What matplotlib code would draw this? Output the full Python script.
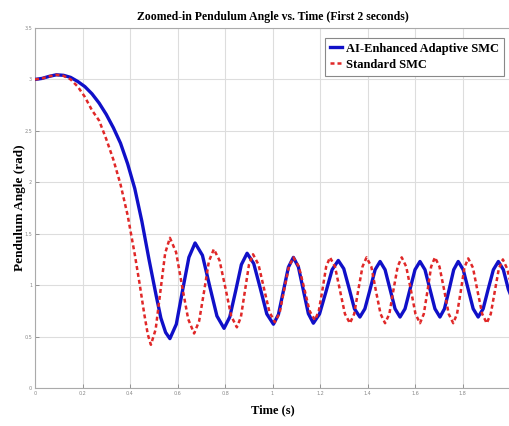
import matplotlib
matplotlib.use("Agg")
import matplotlib.pyplot as plt

# Pendulum angle (rad) vs time (s) for the two controllers
t_adaptive = [0.00, 0.03, 0.06, 0.09, 0.12, 0.15, 0.18, 0.21, 0.24, 0.27, 0.30, 0.33,
              0.36, 0.39, 0.42, 0.45, 0.48, 0.51, 0.53, 0.55, 0.568,
              0.595, 0.621, 0.648, 0.674, 0.705, 0.735, 0.766, 0.796,
              0.820, 0.845, 0.869, 0.893, 0.921, 0.949, 0.976, 1.004,
              1.025, 1.046, 1.067, 1.088, 1.109, 1.130, 1.151, 1.172,
              1.198, 1.225, 1.251, 1.277, 1.300, 1.323, 1.345, 1.368,
              1.389, 1.411, 1.432, 1.453, 1.474, 1.495, 1.516, 1.537,
              1.558, 1.579, 1.600, 1.621, 1.642, 1.663, 1.684, 1.705,
              1.724, 1.744, 1.763, 1.782, 1.803, 1.824, 1.845, 1.866,
              1.887, 1.908, 1.930, 1.951, 1.972, 1.993, 2.000]
angle_adaptive = [3.00, 3.01, 3.03, 3.045, 3.04, 3.02, 2.98, 2.93, 2.86, 2.77, 2.66, 2.53,
                  2.38, 2.18, 1.94, 1.62, 1.25, 0.90, 0.68, 0.54, 0.48,
                  0.62, 0.945, 1.27, 1.41, 1.29, 0.995, 0.70, 0.58,
                  0.69, 0.945, 1.20, 1.31, 1.21, 0.965, 0.72, 0.62,
                  0.715, 0.945, 1.175, 1.27, 1.177, 0.95, 0.723, 0.63,
                  0.72, 0.935, 1.15, 1.24, 1.16, 0.965, 0.77, 0.69,
                  0.77, 0.96, 1.15, 1.23, 1.15, 0.96, 0.77, 0.69,
                  0.77, 0.96, 1.15, 1.23, 1.15, 0.96, 0.77, 0.69,
                  0.77, 0.96, 1.15, 1.23, 1.15, 0.96, 0.77, 0.69,
                  0.77, 0.96, 1.15, 1.23, 1.15, 0.96, 0.92]

t_standard = [0.00, 0.03, 0.06, 0.09, 0.12, 0.15, 0.18, 0.21, 0.24, 0.27, 0.30, 0.33,
              0.36, 0.39, 0.42, 0.44, 0.46, 0.475, 0.488,
              0.508, 0.528, 0.548, 0.568, 0.594, 0.619, 0.645, 0.670,
              0.691, 0.712, 0.732, 0.753, 0.777, 0.802, 0.826, 0.850,
              0.867, 0.884, 0.901, 0.918, 0.941, 0.964, 0.987, 1.010,
              1.030, 1.049, 1.069, 1.088, 1.111, 1.134, 1.156, 1.179,
              1.195, 1.211, 1.226, 1.242, 1.263, 1.284, 1.305, 1.326,
              1.344, 1.361, 1.379, 1.396, 1.416, 1.435, 1.455, 1.474,
              1.492, 1.509, 1.527, 1.544, 1.563, 1.583, 1.602, 1.621,
              1.637, 1.653, 1.668, 1.684, 1.703, 1.723, 1.742, 1.761,
              1.777, 1.793, 1.808, 1.824, 1.844, 1.863, 1.883, 1.902,
              1.919, 1.936, 1.953, 1.970, 1.988, 2.000]
angle_standard = [3.00, 3.01, 3.03, 3.045, 3.035, 3.00, 2.93, 2.83, 2.70, 2.60, 2.42, 2.22,
                  1.98, 1.68, 1.30, 1.02, 0.72, 0.52, 0.42,
                  0.57, 0.94, 1.31, 1.46, 1.32, 0.995, 0.67, 0.53,
                  0.65, 0.94, 1.23, 1.35, 1.24, 0.97, 0.70, 0.59,
                  0.69, 0.945, 1.20, 1.30, 1.20, 0.97, 0.74, 0.64,
                  0.73, 0.955, 1.18, 1.27, 1.18, 0.965, 0.75, 0.66,
                  0.75, 0.965, 1.18, 1.27, 1.18, 0.95, 0.72, 0.63,
                  0.72, 0.95, 1.18, 1.27, 1.18, 0.95, 0.72, 0.63,
                  0.72, 0.95, 1.18, 1.27, 1.18, 0.95, 0.72, 0.63,
                  0.72, 0.95, 1.18, 1.27, 1.18, 0.95, 0.72, 0.63,
                  0.72, 0.945, 1.17, 1.26, 1.17, 0.945, 0.72, 0.63,
                  0.72, 0.94, 1.16, 1.25, 1.16, 1.05]

x_ticks = [0, 0.2, 0.4, 0.6, 0.8, 1.0, 1.2, 1.4, 1.6, 1.8]
x_tick_labels = ["0", "0.2", "0.4", "0.6", "0.8", "1", "1.2", "1.4", "1.6", "1.8"]
y_ticks = [0, 0.5, 1.0, 1.5, 2.0, 2.5, 3.0, 3.5]
y_tick_labels = ["0", "0.5", "1", "1.5", "2", "2.5", "3", "3.5"]

serif = ["Liberation Serif", "DejaVu Serif"]

fig = plt.figure(figsize=(5.09, 4.26), dpi=100)
ax = fig.add_axes([35 / 509, 38 / 426, 475 / 509, 360 / 426])

ax.plot(t_adaptive, angle_adaptive, color="#1010C8", lw=2.4,
        label="AI-Enhanced Adaptive SMC", zorder=3)
ax.plot(t_standard, angle_standard, color="#E02828", lw=1.8,
        linestyle=(0, (1.6, 1.2)), label="Standard SMC", zorder=4)

ax.set_xlim(0, 2)
ax.set_ylim(0, 3.5)
ax.set_xticks(x_ticks)
ax.set_xticklabels(x_tick_labels)
ax.set_yticks(y_ticks)
ax.set_yticklabels(y_tick_labels)
ax.tick_params(labelsize=3.5, colors="#888888", length=3, width=0.6,
               direction="in", pad=2)
ax.grid(True, color="#DDDDDD", lw=0.8)
for s in ax.spines.values():
    s.set_color("#AAAAAA")
    s.set_linewidth(0.8)

ax.set_title("Zoomed-in Pendulum Angle vs. Time (First 2 seconds)",
             family=serif, fontweight="bold", fontsize=8.5, pad=6)
ax.set_xlabel("Time (s)", family=serif, fontweight="bold", fontsize=9, labelpad=6)
ax.set_ylabel("Pendulum Angle (rad)", family=serif, fontweight="bold",
              fontsize=9.5)
ax.yaxis.set_label_coords(-9 / 475, 0.5)

leg = ax.legend(loc="upper right", bbox_to_anchor=(1.0, 0.99),
                prop={"family": serif, "weight": "bold", "size": 9},
                handlelength=1.0, handletextpad=0.3, borderpad=0.4,
                labelspacing=0.3, fancybox=False, framealpha=1,
                edgecolor="#888888")
leg.get_frame().set_linewidth(0.8)

fig.savefig("out.png", dpi=100)
